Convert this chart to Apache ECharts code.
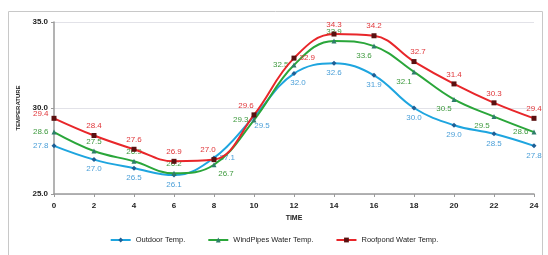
<!DOCTYPE html>
<html><head><meta charset="utf-8">
<script src="https://cdn.jsdelivr.net/npm/echarts@6/dist/echarts.min.js"></script>
<style>html,body{margin:0;padding:0;background:#fff}#c{width:548px;height:255px}</style>
</head><body><div id="c"></div>
<script>
var hours = [0,2,4,6,8,10,12,14,16,18,20,22,24];
var outdoor = [27.8,27.0,26.5,26.1,27.1,29.5,32.0,32.6,31.9,30.0,29.0,28.5,27.8];
var windPipes = [28.6,27.5,26.9,26.2,26.7,29.3,32.5,33.9,33.6,32.1,30.5,29.5,28.6];
var roofpond = [29.4,28.4,27.6,26.9,27.0,29.6,32.9,34.3,34.2,32.7,31.4,30.3,29.4];
var seriesNames = ['Outdoor Temp.','WindPipes Water Temp.','Roofpond Water Temp.'];
var yTicks = [25,30,35];

// label placement (style only)
var posOut = ['left','bottom','bottom','bottom','right','bottom','bottom','bottom','bottom','bottom','bottom','bottom','bottom'];
var posWind = ['left','top','top','top','bottom','left','left','top','bottom','bottom','bottom','bottom','left'];
var posRoof = ['left','top','top','top','top','top','right','top','top','top','top','top','top'];
var offWind = [[0,0],[0,0],[0,0],[0,0],[12,0],[0,0],[0,0],[0,0],[-10,0],[-10,0],[-10,0],[-12,0],[0,0]];
var offRoof = [[0,-5],[0,0],[0,0],[0,0],[-6,0],[-8,0],[0,0],[0,0],[0,0],[4,0],[0,0],[0,0],[0,0]];
var offOut = [[0,0],[0,0],[0,0],[0,0],[0,0],[8,0],[4,0],[0,0],[0,0],[0,0],[0,0],[0,0],[0,0]];

function build(vals, pos, off, col) {
  return hours.map(function(h,i){
    return {value:[h, vals[i]], label:{position:pos[i], offset:off[i], color:col}};
  });
}
var chart = echarts.init(document.getElementById('c'));
var lbl = {show:true, fontSize:8, fontFamily:'Liberation Sans', distance:3, formatter:function(p){return p.value[1].toFixed(1);}};
chart.setOption({
  animation:false,
  graphic:[{type:'rect', shape:{x:8.5,y:11.5,width:534,height:260}, style:{fill:'none', stroke:'#c8c8c8', lineWidth:1}, silent:true}],
  grid:{left:54, right:14, top:22, bottom:61},
  legend:{bottom:6, left:'center', itemWidth:20, itemHeight:6, itemGap:22,
    textStyle:{fontSize:7.5, fontFamily:'Liberation Sans', color:'#222'},
    data:seriesNames},
  xAxis:{type:'value', min:0, max:24, interval:2, name:'TIME', nameLocation:'middle', nameGap:20,
    nameTextStyle:{fontSize:7, fontWeight:'bold', color:'#222', fontFamily:'Liberation Sans'},
    axisLine:{lineStyle:{color:'#9a9a9a', width:1.5}}, axisTick:{show:true, length:3, lineStyle:{color:'#9a9a9a'}},
    splitLine:{show:false},
    axisLabel:{fontSize:8, fontWeight:'bold', color:'#222', fontFamily:'Liberation Sans', margin:8}},
  yAxis:{type:'value', min:25, max:35, interval:5, name:'TEMPERATURE', nameLocation:'middle', nameGap:25, nameRotate:90,
    nameTextStyle:{fontSize:6, fontWeight:'bold', color:'#222', fontFamily:'Liberation Sans'},
    axisLine:{show:true, lineStyle:{color:'#9a9a9a', width:1.5}}, axisTick:{show:true, length:3, lineStyle:{color:'#9a9a9a'}},
    splitLine:{lineStyle:{color:'#e2e2e8'}},
    axisLabel:{fontSize:8, fontWeight:'bold', color:'#222', fontFamily:'Liberation Sans', margin:6,
      formatter:function(v){return yTicks.indexOf(v)>=0 ? v.toFixed(1) : '';}}},
  series:[
    {name:seriesNames[0], type:'line', smooth:0.4, data:build(outdoor,posOut,offOut,'#4a9fd8'),
     symbol:'diamond', symbolSize:5, itemStyle:{color:'#1e5f96'}, lineStyle:{color:'#1ea5df', width:2},
     label:lbl, z:3},
    {name:seriesNames[1], type:'line', smooth:0.4, data:build(windPipes,posWind,offWind,'#3f9a3f'),
     symbol:'triangle', symbolSize:5, itemStyle:{color:'#2e7d6b'}, lineStyle:{color:'#2aa63a', width:2},
     label:lbl, z:4},
    {name:seriesNames[2], type:'line', smooth:0.4, data:build(roofpond,posRoof,offRoof,'#e0363a'),
     symbol:'rect', symbolSize:5, itemStyle:{color:'#5a1010'}, lineStyle:{color:'#e8262a', width:2},
     label:lbl, z:5}
  ]
});
</script></body></html>
